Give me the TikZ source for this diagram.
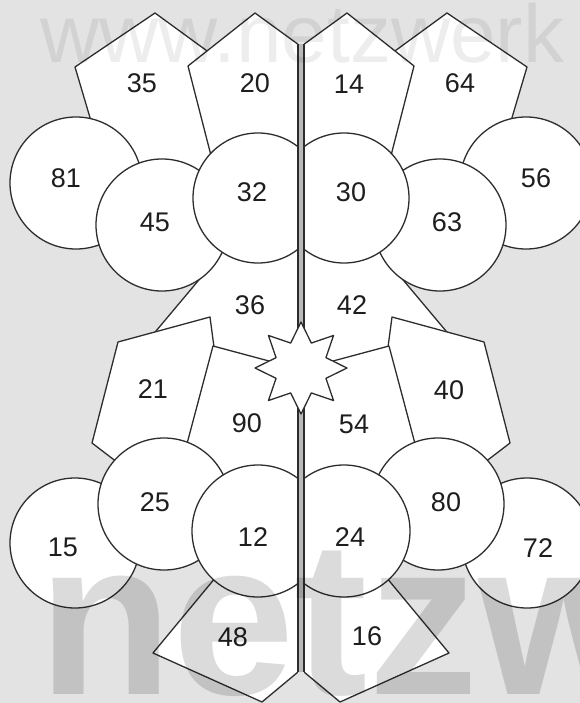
\documentclass[tikz,border=0pt]{standalone}
\usepackage{fontspec}
\setmainfont{Liberation Sans}
\definecolor{bgc}{RGB}{227,227,227}
\definecolor{linec}{RGB}{45,45,45}
\definecolor{numc}{RGB}{30,30,30}
\newcommand\drawhalfnet{%
  \filldraw[shp] (155,13) -- (240,75) -- (215,180) -- (107,175) -- (75,67) -- cycle;
  \filldraw[shp] (255,13) -- (330,67.5) -- (310,170) -- (216,175) -- (188,66) -- cycle;
  \filldraw[shp] (245,225) -- (130,362) -- (240,420) -- (310,420) -- (310,225) -- cycle;
  \filldraw[shp] (118,342) -- (210,317) -- (225,430) -- (160,495) -- (92,443) -- cycle;
  \filldraw[shp] (213,346) -- (310,372) -- (310,520) -- (220,500) -- (180,470) -- cycle;
  \filldraw[shp] (153,653) -- (262,702) -- (310,662) -- (300,540) -- (240,548) -- cycle;
  \filldraw[shp] (76,183) circle[radius=66pt];
  \filldraw[shp] (162,225) circle[radius=66pt];
  \filldraw[shp] (258,198) circle[radius=65pt];
  \filldraw[shp] (75,543) circle[radius=65pt];
  \filldraw[shp] (164,504) circle[radius=66pt];
  \filldraw[shp] (258,531) circle[radius=66pt];
}
\begin{document}
\begin{tikzpicture}[x=1pt,y=-1pt,
  shp/.style={fill=white,draw=linec,line width=1.3pt,line join=round},
  num/.style={text=numc,font=\fontsize{27}{27}\selectfont,inner sep=0pt}]
\useasboundingbox (0,0) rectangle (580,703);
\fill[bgc] (0,0) rectangle (580,703);
% left half
\begin{scope}
  \clip (0,0) rectangle (298,703);
  \drawhalfnet
\end{scope}
% right half (mirror image)
\begin{scope}[xshift=602pt,xscale=-1]
  \clip (0,0) rectangle (298,703);
  \drawhalfnet
\end{scope}
% divider
\fill[gray!55] (298,44) rectangle (304,672);
\draw[linec,line width=1.3pt] (298,44) -- (298,672);
\draw[linec,line width=1.3pt] (304,44) -- (304,672);
% star
\filldraw[shp] (301,368) +(90:46) -- +(112.5:27) -- +(135:46) -- +(157.5:27)
  -- +(180:46) -- +(202.5:27) -- +(225:46) -- +(247.5:27)
  -- +(270:46) -- +(292.5:27) -- +(315:46) -- +(337.5:27)
  -- +(0:46) -- +(22.5:27) -- +(45:46) -- +(67.5:27) -- cycle;
% labels left
\node[num] (n35) at (142,83) {35};
\node[num] (n20) at (255,83) {20};
\node[num] (n81) at (66,178) {81};
\node[num] (n45) at (155,222) {45};
\node[num] (n32) at (252,192) {32};
\node[num] (n36) at (250,305) {36};
\node[num] (n21) at (153,389) {21};
\node[num] (n90) at (247,423) {90};
\node[num] (n25) at (155,502) {25};
\node[num] (n15) at (63,547) {15};
\node[num] (n12) at (253,537) {12};
\node[num] (n48) at (233,637) {48};
% labels right
\node[num] (n14) at (349,84) {14};
\node[num] (n64) at (460,83) {64};
\node[num] (n56) at (536,178) {56};
\node[num] (n63) at (447,222) {63};
\node[num] (n30) at (351,192) {30};
\node[num] (n42) at (352,305) {42};
\node[num] (n40) at (449,390) {40};
\node[num] (n54) at (354,424) {54};
\node[num] (n80) at (446,502) {80};
\node[num] (n72) at (538,548) {72};
\node[num] (n24) at (350,537) {24};
\node[num] (n16) at (367,636) {16};
% watermarks
\node[anchor=base west,inner sep=0pt,text=black,text opacity=0.07,
  font=\fontsize{82}{82}\selectfont] (wm1) at (40,63) {www.netzwerk};
\node[anchor=base west,inner sep=0pt,text=black,text opacity=0.14,
  font=\fontsize{220}{220}\bfseries] (wm2) at (38,694) {netzw};
\end{tikzpicture}
\end{document}
